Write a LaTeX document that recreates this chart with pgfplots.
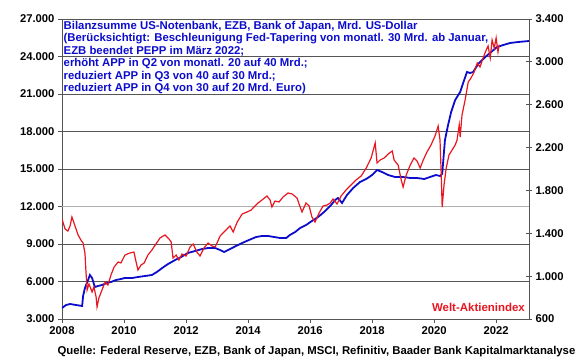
\documentclass[border=0pt]{standalone}
\usepackage{pgfplots}
\pgfplotsset{compat=1.18}
\usepackage{fontspec}
\setmainfont{Liberation Sans}
\definecolor{bbblue}{RGB}{12,12,205}
\definecolor{bbred}{RGB}{232,22,32}
\definecolor{gridgray}{RGB}{85,85,85}
\definecolor{lightg}{RGB}{175,175,175}
\pgfplotstableread{
t v
2008.00 3880
2008.13 4120
2008.26 4200
2008.45 4120
2008.65 4040
2008.68 4840
2008.74 5480
2008.84 6120
2008.90 6520
2008.97 6280
2009.06 5560
2009.16 5640
2009.29 5720
2009.45 5880
2009.58 5960
2009.74 6120
2009.90 6200
2010.03 6280
2010.26 6280
2010.45 6360
2010.68 6440
2010.90 6520
2011.06 6760
2011.23 7080
2011.42 7400
2011.65 7720
2011.84 7960
2012.06 8280
2012.29 8440
2012.52 8600
2012.71 8680
2012.94 8680
2013.10 8520
2013.23 8360
2013.42 8600
2013.61 8840
2013.81 9080
2014.03 9320
2014.26 9560
2014.45 9640
2014.65 9640
2014.84 9560
2015.03 9480
2015.23 9480
2015.35 9720
2015.52 9960
2015.68 10280
2015.87 10520
2016.06 10840
2016.26 11160
2016.45 11560
2016.65 12040
2016.81 12520
2016.90 12680
2017.03 12280
2017.19 12920
2017.39 13480
2017.61 13960
2017.81 14200
2018.00 14520
2018.16 14920
2018.32 14760
2018.52 14520
2018.74 14360
2019.00 14360
2019.23 14280
2019.45 14280
2019.68 14200
2019.87 14360
2020.06 14520
2020.19 14440
2020.26 14600
2020.35 17320
2020.45 18520
2020.55 19560
2020.68 20520
2020.84 21160
2020.97 22120
2021.06 22760
2021.16 22680
2021.26 22760
2021.42 23400
2021.65 23960
2021.84 24360
2022.03 24760
2022.23 24920
2022.45 25080
2022.71 25160
2023.06 25240
}\bluedata
\pgfplotstableread{
t v
2008.00 1533
2008.10 1440
2008.19 1421
2008.26 1468
2008.32 1552
2008.42 1468
2008.52 1384
2008.61 1337
2008.68 1309
2008.74 1216
2008.77 1057
2008.81 871
2008.87 927
2008.97 852
2009.03 899
2009.10 805
2009.13 712
2009.19 796
2009.29 871
2009.39 945
2009.48 917
2009.58 1011
2009.68 1085
2009.81 1132
2009.90 1123
2010.03 1197
2010.19 1216
2010.32 1225
2010.39 1132
2010.45 1057
2010.55 1104
2010.65 1123
2010.77 1197
2010.90 1244
2011.03 1300
2011.16 1356
2011.32 1384
2011.45 1347
2011.52 1319
2011.58 1169
2011.68 1197
2011.77 1151
2011.87 1207
2012.00 1188
2012.13 1272
2012.23 1300
2012.35 1225
2012.45 1188
2012.58 1263
2012.71 1309
2012.84 1281
2012.94 1272
2013.10 1375
2013.29 1431
2013.42 1468
2013.52 1412
2013.65 1505
2013.81 1580
2013.97 1599
2014.10 1617
2014.19 1645
2014.32 1683
2014.45 1711
2014.61 1748
2014.71 1711
2014.77 1645
2014.87 1701
2015.00 1692
2015.13 1739
2015.29 1776
2015.42 1767
2015.58 1729
2015.68 1645
2015.74 1599
2015.87 1683
2015.97 1655
2016.06 1552
2016.16 1505
2016.29 1589
2016.42 1655
2016.55 1664
2016.65 1683
2016.74 1720
2016.87 1673
2017.00 1748
2017.16 1804
2017.32 1851
2017.48 1897
2017.65 1935
2017.81 2009
2017.97 2103
2018.10 2243
2018.16 2056
2018.26 2084
2018.39 2103
2018.52 2140
2018.65 2168
2018.71 2084
2018.84 2037
2018.94 1897
2019.00 1832
2019.10 1944
2019.23 2037
2019.35 2103
2019.45 2075
2019.55 2009
2019.65 2084
2019.77 2159
2019.90 2224
2020.03 2308
2020.13 2401
2020.19 2271
2020.23 1944
2020.26 1645
2020.32 1851
2020.39 2009
2020.48 2131
2020.58 2177
2020.68 2224
2020.74 2271
2020.81 2411
2020.84 2299
2020.90 2504
2021.00 2644
2021.10 2812
2021.19 2849
2021.29 2905
2021.39 2989
2021.48 2952
2021.58 3036
2021.68 3111
2021.74 3148
2021.81 3036
2021.87 3204
2021.94 3129
2022.00 3223
2022.06 3092
2022.10 3160
}\reddata
\begin{document}
\begin{tikzpicture}
\pgfplotsset{
  /pgf/number format/assume math mode=true,
  every axis/.append style={
    scale only axis, width=467bp, height=300bp,
    xmin=2008, xmax=2023.06,
    scaled y ticks=false, scaled x ticks=false,
    ticklabel style={font=\bfseries\fontsize{11.3}{12}\selectfont, text=black},
  }
}
\begin{axis}[name=left,
  ymin=3000, ymax=27000,
  ytick={3000,6000,9000,15000,18000,21000,24000,27000},
  extra y ticks={12000},
  extra y tick style={grid style={lightg, line width=1.2bp}},
  xtick={2008,2010,...,2022},
  xtick pos=bottom, ytick pos=left,
  tick align=outside, major tick length=4bp,
  ymajorgrids, grid style={gridgray, line width=0.8bp},
  axis line style={gridgray, line width=0.8bp},
  tick style={gridgray, line width=0.8bp},
  yticklabel style={/pgf/number format/fixed, /pgf/number format/1000 sep={.}},
  xticklabel style={/pgf/number format/1000 sep={}},
]
\addplot[bbblue, line width=1.8bp] table[x=t, y=v] {\bluedata};
\end{axis}
\begin{axis}[
  ymin=600, ymax=3400,
  ytick={600,1000,...,3400},
  axis x line=none, axis y line*=right,
  tick align=center, major tick length=6bp,
  axis line style={gridgray, line width=0.8bp},
  tick style={gridgray, line width=0.8bp},
  yticklabel style={/pgf/number format/fixed, /pgf/number format/1000 sep={.}},
]
\addplot[bbred, line width=1.2bp] table[x=t, y=v] {\reddata};
\end{axis}
\begin{scope}[every node/.style={anchor=base west, inner sep=0pt, text=bbblue, font=\bfseries\fontsize{11.4}{12}\selectfont}]
\node at ([shift={(1.5bp,289.5bp)}]left.south west) {Bilanzsumme US-Notenbank, EZB, Bank of Japan, Mrd. US-Dollar};
\node at ([shift={(1.5bp,277bp)}]left.south west) {(Berücksichtigt: Beschleunigung Fed-Tapering von monatl. 30 Mrd. ab Januar,};
\node at ([shift={(1.5bp,264.5bp)}]left.south west) {EZB beendet PEPP im März 2022;};
\node at ([shift={(1.5bp,252bp)}]left.south west) {erhöht APP in Q2 von monatl. 20 auf 40 Mrd.;};
\node at ([shift={(1.5bp,239.5bp)}]left.south west) {reduziert APP in Q3 von 40 auf 30 Mrd.;};
\node at ([shift={(1.5bp,227bp)}]left.south west) {reduziert APP in Q4 von 30 auf 20 Mrd. Euro)};
\end{scope}
\node[anchor=base east, inner sep=0pt, text=bbred, font=\bfseries\fontsize{11.5}{12}\selectfont] at ([shift={(463bp,8bp)}]left.south west) {Welt-Aktienindex};
\node[anchor=base, inner sep=0pt, font=\bfseries\fontsize{11.4}{12}\selectfont] at ([shift={(254.5bp,-35bp)}]left.south west) {Quelle: Federal Reserve, EZB, Bank of Japan, MSCI, Refinitiv, Baader Bank Kapitalmarktanalyse};
\pgfresetboundingbox
\useasboundingbox ([shift={(-62bp,-40bp)}]left.south west) rectangle ([shift={(51bp,19bp)}]left.north east);
\end{tikzpicture}
\end{document}
